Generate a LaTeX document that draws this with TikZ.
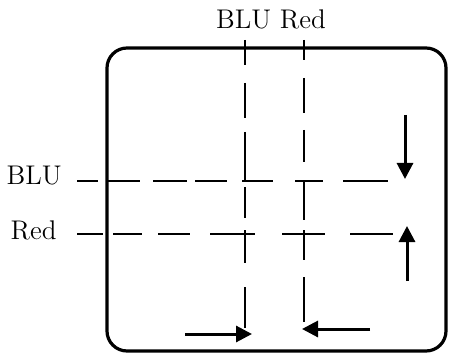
\documentclass[tikz,border=0pt]{standalone}
\usetikzlibrary{arrows.meta}
\begin{document}
\begin{tikzpicture}[x=0.5pt,y=-0.5pt,
  seg/.style={line width=1.4pt},
  frame/.style={line width=1.6pt,rounded corners=10pt},
  arr/.style={line width=1.5pt,-{Triangle[length=8pt,width=8pt]}},
  lbl/.style={font=\fontsize{13.5}{16}\selectfont,inner sep=0pt}]
\useasboundingbox (0,0) rectangle (450,358);
\draw[frame] (107,48) rectangle (446,351);
\node[lbl] (top) at (271,19) {BLU Red};
\node[lbl,anchor=east] (lblu) at (62,176) {BLU};
\node[lbl,anchor=east] (lred) at (57,230) {Red};
% BLU vertical
\foreach \a/\b in {40/65,83/118,132/180,187/218,230/263,287/328}
  \draw[seg] (245,\a) -- (245,\b);
% Red vertical
\foreach \a/\b in {40/60,78/113,130/162,182/220,230/260,277/322}
  \draw[seg] (304,\a) -- (304,\b);
% BLU horizontal
\foreach \a/\b in {77/98,107/140,153/187,195/227,242/273,295/323,343/388}
  \draw[seg] (\a,181) -- (\b,181);
% Red horizontal
\foreach \a/\b in {77/103,113/142,158/190,210/255,282/325,350/393}
  \draw[seg] (\a,234) -- (\b,234);
% arrows
\coordinate (d1) at (405,115); \coordinate (d2) at (405,179);
\coordinate (u1) at (407,281); \coordinate (u2) at (407,226);
\coordinate (r1) at (185,334); \coordinate (r2) at (252,334);
\coordinate (l1) at (370,329); \coordinate (l2) at (302,329);
\draw[arr] (d1) -- (d2);
\draw[arr] (u1) -- (u2);
\draw[arr] (r1) -- (r2);
\draw[arr] (l1) -- (l2);
\end{tikzpicture}
\end{document}
